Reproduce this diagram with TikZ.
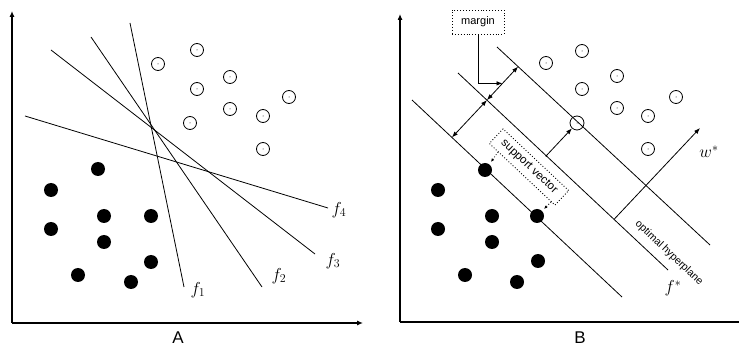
\documentclass[tikz,border=0pt]{standalone}
\usepackage{fontspec}
\setsansfont{Liberation Sans}
\usetikzlibrary{arrows.meta,calc}
\begin{document}
\begin{tikzpicture}[x=1pt,y=-1pt,
  ln/.style={line width=0.8pt},
  axisarrow/.style={line width=1.1pt,-{Latex[length=6pt,width=5pt]}},
  tip/.style={-{Latex[length=6pt,width=4.5pt]}},
  dtip/.style={{Latex[length=6pt,width=4.5pt]}-{Latex[length=6pt,width=4.5pt]}},
  opendot/.style={circle,draw,line width=0.8pt,minimum size=13pt,inner sep=0pt,
    path picture={\fill (path picture bounding box.center) circle (0.5pt);}},
  filldot/.style={circle,fill,minimum size=14pt,inner sep=0pt},
  dotbox/.style={draw,dotted,line width=0.9pt},
  sflab/.style={font=\sffamily\fontsize{17}{20}\selectfont},
  smalltext/.style={font=\sffamily\fontsize{10.5}{12}\selectfont},
  mlab/.style={font=\fontsize{17}{19}\selectfont}
]
\useasboundingbox (0,0) rectangle (739,347);

% ---------------- Panel A ----------------
\coordinate (Ao) at (12,323);
\coordinate (Ay) at (12,11);
\coordinate (Ax) at (363,323);
\draw[axisarrow] (Ao) -- (Ay);
\draw[axisarrow] (Ao) -- (Ax);
\node[sflab] (labA) at (178,338) {A};

\coordinate (f1a) at (130,23);  \coordinate (f1b) at (184,287);
\coordinate (f2a) at (91,37);   \coordinate (f2b) at (262,287);
\coordinate (f3a) at (51,50);   \coordinate (f3b) at (315,254);
\coordinate (f4a) at (25,116);  \coordinate (f4b) at (328,208);
\draw[ln] (f1a) -- (f1b);
\draw[ln] (f2a) -- (f2b);
\draw[ln] (f3a) -- (f3b);
\draw[ln] (f4a) -- (f4b);
\node[mlab] (lf1) at (198,290) {$f_1$};
\node[mlab] (lf2) at (279,276) {$f_2$};
\node[mlab] (lf3) at (333,261) {$f_3$};
\node[mlab] (lf4) at (339,210) {$f_4$};

\foreach \p [count=\i] in {(158,64),(197,50),(230,77),(197,89),(289,97),(230,109),(263,116),(190,123),(263,149)}
  \node[opendot] (ao\i) at \p {};
\foreach \p [count=\i] in {(98,169),(51,190),(104,216),(151,216),(51,229),(104,242),(151,262),(78,275),(131,282)}
  \node[filldot] (af\i) at \p {};

% ---------------- Panel B ----------------
\coordinate (Bo) at (400,322);
\coordinate (By) at (400,14);
\coordinate (Bx) at (739,322);
\draw[axisarrow] (Bo) -- (By);
\draw[line width=1.1pt] (Bo) -- (Bx);
\node[sflab] (labB) at (580,338) {B};

\coordinate (L1a) at (412,100); \coordinate (L1b) at (622,297);
\coordinate (L2a) at (458,73);  \coordinate (L2b) at (668,270);
\coordinate (L3a) at (497,47);  \coordinate (L3b) at (710,245);
\draw[ln] (L1a) -- (L1b);
\draw[ln] (L2a) -- (L2b);
\draw[ln] (L3a) -- (L3b);

\foreach \p [count=\i] in {(546,63),(582,51),(617,76),(582,89),(676,97),(617,108),(648,116),(648,149)}
  \node[opendot] (bo\i) at \p {};
\node[opendot,minimum size=14pt] (sv0) at (577,123) {};
\foreach \p [count=\i] in {(438,190),(492,216),(438,229),(492,242),(538,261),(465,275),(517,282)}
  \node[filldot] (bf\i) at \p {};
\node[filldot] (sv1) at (485,170) {};
\node[filldot] (sv2) at (537,216) {};

% margin arrows
\coordinate (P2) at ($(L2a)!(488,99)!(L2b)$);
\coordinate (P1) at ($(L1a)!(P2)!(L1b)$);
\coordinate (P3) at ($(L3a)!(P2)!(L3b)$);
\draw[ln,dtip] (P1) -- (P2);
\draw[ln,dtip] (P2) -- (P3);
\coordinate (Pm) at ($(P2)!0.5!(P3)$);
\node[dotbox,minimum width=52pt,minimum height=24pt,inner sep=0pt,
      font=\sffamily\fontsize{11}{13}\selectfont] (margin) at (478,22) {margin};
\draw[ln,tip] (margin.south) |- (Pm);

% arrow to open support vector
\coordinate (F0) at ($(L2a)!(sv0)!(L2b)$);
\fill (F0) circle (1pt);
\draw[ln,tip] (F0) -- (sv0);

% support vector box
\node[dotbox,rotate=-43.2,minimum width=90pt,minimum height=20pt,inner sep=0pt,
      font=\sffamily\fontsize{11.5}{13}\selectfont] (svbox) at (529,167) {support vector};
\coordinate (s1a) at (498,152); \coordinate (s1b) at (491,162);
\coordinate (s2a) at (551,202); \coordinate (s2b) at (544,209);
\draw[dotted,line width=0.8pt,-{Latex[length=3.5pt,width=3pt]}] (s1a) -- (s1b);
\draw[dotted,line width=0.8pt,-{Latex[length=3.5pt,width=3pt]}] (s2a) -- (s2b);

% w* arrow
\coordinate (W0) at ($(L2a)!0.743!(L2b)$);
\coordinate (W1) at (700,128);
\draw[ln,tip] (W0) -- (W1);
\node[mlab] (lw) at (709,152) {$w^{*}$};

% optimal hyperplane label
\node[smalltext,rotate=-43.2] (opt) at (669,253) {optimal hyperplane};
\node[mlab] (lfs) at (673,288) {$f^{*}$};
\end{tikzpicture}
\end{document}
